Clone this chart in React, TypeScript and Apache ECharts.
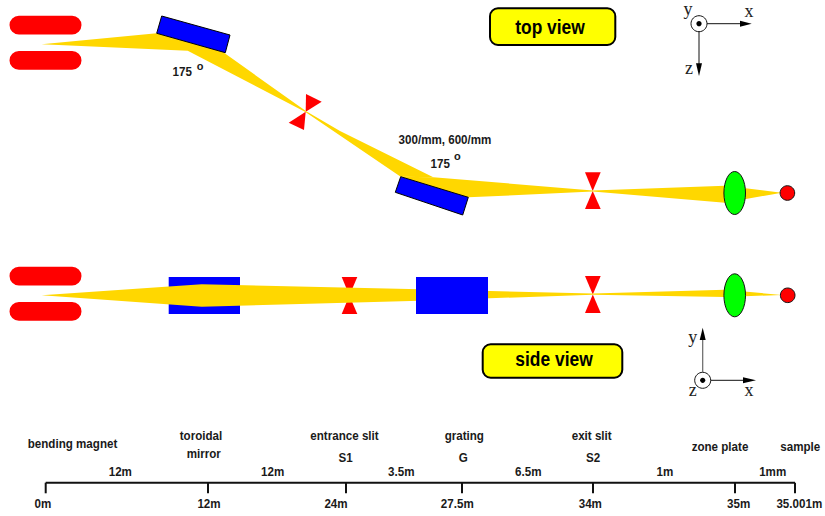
import React, { useEffect, useRef } from "react";
import * as echarts from "echarts";

type P = [number, number];

// Diagram geometry, in the units of the hidden 825 x 516 value axes
const magnets: number[][] = [
  [9.5, 15.7, 72, 18.8],
  [9.5, 51, 72, 18.8],
  [9.5, 266.7, 72, 18.8],
  [9.5, 302, 72, 18.8],
];
const underBeamRects: number[][] = [[168.7, 277, 71.3, 37]];
const overBeamRects: number[][] = [[416, 277, 72, 37]];
const slits: P[][] = [
  [[305.7, 111.7], [306, 94], [321.7, 101.7]],
  [[305.7, 111.7], [288.7, 122.7], [304, 130]],
  [[592.7, 191], [585, 172.3], [600.7, 172.3]],
  [[592.7, 191], [585, 209], [600.7, 209]],
  [[349.4, 295.5], [341.7, 277], [357.3, 277]],
  [[349.4, 295.5], [341.7, 314], [357.3, 314]],
  [[592.8, 294.5], [585, 276], [600.7, 276]],
  [[592.8, 294.5], [585, 313], [600.7, 313]],
];
const beams: P[][] = [
  [[41.7, 44.3], [156.7, 33.3], [223.3, 52.3], [306.2, 111.3], [305.4, 112.1], [187.7, 50.7]],
  [[306.2, 111.3], [340, 131], [433.3, 177.3], [400.7, 176.7], [305.4, 112.1]],
  [[400.7, 176.7], [433.3, 177.3], [592.7, 190.4], [592.7, 191.6], [468.3, 197.3]],
  [[592.7, 190.4], [725, 185.7], [781.7, 192.7], [725, 202.7], [592.7, 191.6]],
  [[41.7, 295.3], [201.7, 284.3], [420, 289.3], [592.7, 293.5], [592.7, 294.7], [420, 300.7], [201.7, 306.7]],
  [[592.7, 293.5], [725, 289.7], [781.7, 295], [725, 297], [592.7, 294.7]],
];
const mirrors: P[][] = [
  [[161.7, 16], [230, 35], [225.3, 52.7], [156.7, 33.3]],
  [[400.7, 176.7], [468.3, 197.3], [462.7, 215], [395.3, 192.3]],
];
const lenses: number[][] = [
  [734.7, 193, 10.8, 21.5],
  [734.7, 295.3, 10.8, 21.5],
];
const samples: number[][] = [
  [787.4, 193, 7.3],
  [787.7, 295.3, 7.3],
];
const viewBoxes: number[][] = [
  [490, 8.3, 125.3, 36.7],
  [482.7, 344.3, 139.6, 33.4],
];
const viewTexts: [number, number, string][] = [
  [550, 27, "top view"],
  [554, 359.3, "side view"],
];
const axisRings: number[][] = [
  [699, 23.7],
  [702.7, 380.3],
];
const axisLines: number[][] = [
  [707, 23.7, 742, 23.7],
  [699, 31.7, 699, 65],
  [711, 380.3, 745, 380.3],
];
const greyAxisLines: number[][] = [[702.7, 372, 702.7, 338]];
const axisHeads: P[][] = [
  [[751.7, 23.7], [740, 20.7], [740, 26.7]],
  [[699, 76], [696, 63.3], [702, 63.3]],
  [[756, 380.3], [743, 377.3], [743, 383.3]],
  [[702.7, 327.7], [699.7, 340], [705.7, 340]],
];
const axisLetters: [number, number, string][] = [
  [688, 9, "y"],
  [749, 11, "x"],
  [689, 68, "z"],
  [692.7, 337, "y"],
  [749, 390, "x"],
  [692.7, 390, "z"],
];

// Beamline ruler
const tickPositions = [45.7, 208, 346, 462, 593, 735, 795];
const rulerY = 482.7;
const tickEnd = 493.3;
const elementLabels: [number, number, string][] = [
  [72.5, 443.3, "bending magnet"],
  [201, 436, "toroidal"],
  [203.7, 453.3, "mirror"],
  [344.5, 436, "entrance slit"],
  [345.7, 457.3, "S1"],
  [464.3, 436, "grating"],
  [463.3, 457.3, "G"],
  [591.7, 436, "exit slit"],
  [593, 457.3, "S2"],
  [720, 446.7, "zone plate"],
  [800.3, 446.7, "sample"],
];
const distanceLabels: [number, number, string][] = [
  [120.3, 471.7, "12m"],
  [272.7, 471.7, "12m"],
  [401.3, 471.7, "3.5m"],
  [528.3, 471.7, "6.5m"],
  [665, 471.7, "1m"],
  [772.7, 471.7, "1mm"],
];
const positionLabels: [number, number, string][] = [
  [43, 504, "0m"],
  [209, 504, "12m"],
  [336, 504, "24m"],
  [457.3, 504, "27.5m"],
  [590.3, 504, "34m"],
  [738.7, 504, "35m"],
  [799.3, 504, "35.001m"],
];
const noteLabels: [number, number, string][] = [
  [182.3, 71.3, "175"],
  [445, 139.3, "300/mm, 600/mm"],
  [440.3, 163.3, "175"],
];
const degreeMarks: [number, number, string][] = [
  [200, 65.7, "o"],
  [457.3, 155.7, "o"],
];

const RED = "#ff0000";
const BLUE = "#0000ff";
const GOLD = "#ffd700";
const GREEN = "#00ff00";
const YELLOW = "#ffff00";
const INK = "#1a1a1a";
const SANS = '"Liberation Sans", Arial, sans-serif';
const SERIF = '"Liberation Serif", serif';

function polygonSeries(list: P[][], style: any) {
  return {
    type: "custom",
    coordinateSystem: "cartesian2d",
    clip: false,
    silent: true,
    data: list.map((p) => p[0]),
    renderItem: (params: any, api: any) => ({
      type: "polygon",
      shape: { points: list[params.dataIndex].map((p) => api.coord(p)) },
      style,
    }),
  };
}

function rectSeries(list: number[][], style: any, r = 0) {
  return {
    type: "custom",
    coordinateSystem: "cartesian2d",
    clip: false,
    silent: true,
    data: list.map((b) => [b[0], b[1]]),
    renderItem: (params: any, api: any) => {
      const b = list[params.dataIndex];
      const [x0, y0] = api.coord([b[0], b[1]]);
      const [x1, y1] = api.coord([b[0] + b[2], b[1] + b[3]]);
      return {
        type: "rect",
        shape: {
          x: x0,
          y: y0,
          width: x1 - x0,
          height: y1 - y0,
          r: r || 0,
        },
        style,
      };
    },
  };
}

function ellipseSeries(list: number[][], style: any) {
  return {
    type: "custom",
    coordinateSystem: "cartesian2d",
    clip: false,
    silent: true,
    data: list.map((e) => [e[0], e[1]]),
    renderItem: (params: any, api: any) => {
      const e = list[params.dataIndex];
      const [cx, cy] = api.coord([e[0], e[1]]);
      const [sx, sy] = api.size([e[2], e.length > 3 ? e[3] : e[2]]);
      return { type: "ellipse", shape: { cx, cy, rx: sx, ry: sy }, style };
    },
  };
}

function lineSeries(list: number[][], stroke: string, lineWidth: number) {
  return {
    type: "custom",
    coordinateSystem: "cartesian2d",
    clip: false,
    silent: true,
    data: list.map((l) => [l[0], l[1]]),
    renderItem: (params: any, api: any) => {
      const l = list[params.dataIndex];
      const [x1, y1] = api.coord([l[0], l[1]]);
      const [x2, y2] = api.coord([l[2], l[3]]);
      return {
        type: "line",
        shape: { x1, y1, x2, y2 },
        style: { stroke, lineWidth, fill: "none" },
      };
    },
  };
}

function textSeries(
  list: [number, number, string][],
  font: string,
  fill = INK,
  scaleX = 1,
) {
  return {
    type: "custom",
    coordinateSystem: "cartesian2d",
    clip: false,
    silent: true,
    data: list.map((t) => [t[0], t[1]]),
    renderItem: (params: any, api: any) => {
      const t = list[params.dataIndex];
      const [x, y] = api.coord([t[0], t[1]]);
      return {
        type: "text",
        x,
        y,
        scaleX,
        style: {
          x: 0,
          y: 0,
          text: t[2],
          font,
          fill,
          textAlign: "center",
          textVerticalAlign: "middle",
          verticalAlign: "middle",
        },
      };
    },
  };
}

export default function App() {
  const ref = useRef<HTMLDivElement>(null);
  useEffect(() => {
    const chart = echarts.init(ref.current!, undefined, { renderer: "svg" });
    const ruler: number[][] = [
      [tickPositions[0], rulerY, tickPositions[tickPositions.length - 1], rulerY],
      ...tickPositions.map((x) => [x, rulerY, x, tickEnd]),
    ];
    const LABEL = `bold 13.5px ${SANS}`;
    const LABEL_SCALE = 0.86;
    chart.setOption({
      animation: false,
      backgroundColor: "#ffffff",
      grid: { left: 0, top: 0, right: 0, bottom: 0, containLabel: false },
      xAxis: { type: "value", min: 0, max: 825, show: false },
      yAxis: { type: "value", min: 0, max: 516, inverse: true, show: false },
      series: [
        rectSeries(magnets, { fill: RED }, 9.4),
        rectSeries(underBeamRects, { fill: BLUE }),
        polygonSeries(slits, { fill: RED }),
        polygonSeries(beams, { fill: GOLD }),
        rectSeries(overBeamRects, { fill: BLUE }),
        polygonSeries(mirrors, { fill: BLUE, stroke: "#000", lineWidth: 1 }),
        ellipseSeries(lenses, { fill: GREEN, stroke: "#111", lineWidth: 1 }),
        ellipseSeries(samples, { fill: RED, stroke: "#111", lineWidth: 1 }),
        rectSeries(viewBoxes, { fill: YELLOW, stroke: "#000", lineWidth: 2 }, 8),
        textSeries(viewTexts, `bold 20px ${SANS}`, "#000", 0.87),
        ellipseSeries(
          axisRings.map((r) => [...r, 8]),
          { fill: "#fff", stroke: "#111", lineWidth: 1 },
        ),
        ellipseSeries(
          axisRings.map((r) => [...r, 2.6]),
          { fill: "#000" },
        ),
        lineSeries(axisLines, "#111", 1),
        lineSeries(greyAxisLines, "#666", 1.2),
        polygonSeries(axisHeads, { fill: "#000" }),
        textSeries(axisLetters, `18px ${SERIF}`, "#222"),
        lineSeries(ruler, "#111", 2),
        textSeries(elementLabels, LABEL, INK, LABEL_SCALE),
        textSeries(distanceLabels, LABEL, INK, LABEL_SCALE),
        textSeries(positionLabels, LABEL, INK, LABEL_SCALE),
        textSeries(noteLabels, LABEL, INK, LABEL_SCALE),
        textSeries(degreeMarks, `bold 11px ${SANS}`),
      ],
    });
    return () => chart.dispose();
  }, []);
  return (
    <div
      ref={ref}
      style={{ position: "fixed", left: 0, top: 0, width: 825, height: 516 }}
    />
  );
}
